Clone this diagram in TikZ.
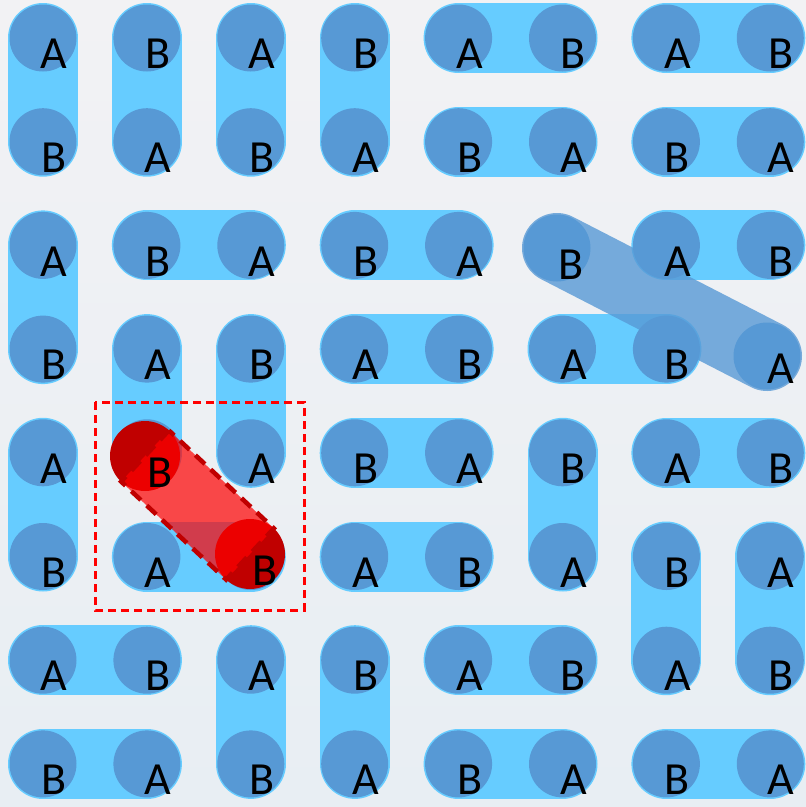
\documentclass[tikz,border=0pt]{standalone}
\usepackage{fontspec}
\setmainfont{Carlito}
\usetikzlibrary{calc}

\definecolor{tileblue}{HTML}{66CCFF}
\definecolor{dotblue}{HTML}{5799D5}
\definecolor{darkred}{HTML}{C00000}
\definecolor{bgtop}{RGB}{242,242,244}
\definecolor{bgmid}{RGB}{245,248,252}
\definecolor{bgbot}{RGB}{232,238,243}

% domino list: col/row/letter of one end, col/row/letter of the other
\def\tiles{1/1/A/1/2/B, 2/1/B/2/2/A, 3/1/A/3/2/B, 4/1/B/4/2/A, 5/1/A/6/1/B, 7/1/A/8/1/B,
  5/2/B/6/2/A, 7/2/B/8/2/A,
  1/3/A/1/4/B, 2/3/B/3/3/A, 4/3/B/5/3/A, 7/3/A/8/3/B,
  2/4/A/2/5/{}, 3/4/B/3/5/A, 4/4/A/5/4/B, 6/4/A/7/4/B,
  1/5/A/1/6/B, 4/5/B/5/5/A, 6/5/B/6/6/A, 7/5/A/8/5/B,
  2/6/A/3/6/{}, 4/6/A/5/6/B, 7/6/B/7/7/A, 8/6/A/8/7/B,
  1/7/A/2/7/B, 3/7/A/3/8/B, 4/7/B/4/8/A, 5/7/A/6/7/B,
  1/8/B/2/8/A, 5/8/B/6/8/A, 7/8/B/8/8/A}

\begin{document}
\begin{tikzpicture}[x=1pt, y=-1pt,
  tile/.style={line width=70pt, line cap=round, draw=tileblue},
  band/.style={line width=70pt, line cap=round, draw=dotblue, opacity=0.8},
  dot/.style={circle, fill=dotblue, minimum size=67pt, inner sep=0pt},
  reddot/.style={circle, fill=darkred, minimum size=70pt, inner sep=0pt},
  redbar/.style={fill=red, fill opacity=0.7, draw=darkred, draw opacity=1, line width=4.5pt, dash pattern=on 13pt off 8pt},
  selbox/.style={draw=red, line width=3pt, dash pattern=on 8pt off 5pt},
  lbl/.style={font=\fontsize{46}{46}\selectfont, inner sep=0pt}
]
  \useasboundingbox (0,0) rectangle (806,807);
  \shade[top color=bgtop, middle color=bgmid, bottom color=bgbot] (0,0) rectangle (806,807);

  % blue dominoes
  \foreach \ca/\ra/\la/\cb/\rb/\lb in \tiles {
    \coordinate (p\ca-\ra) at ({43+103.9*(\ca-1)},{38+103.7*(\ra-1)});
    \coordinate (p\cb-\rb) at ({43+103.9*(\cb-1)},{38+103.7*(\rb-1)});
    \draw[tile] (p\ca-\ra) -- (p\cb-\rb);
    \node[dot] (n\ca-\ra) at (p\ca-\ra) {};
    \node[dot] (n\cb-\rb) at (p\cb-\rb) {};
  }

  % the tilted blue domino
  \coordinate (g1) at (557,248);
  \coordinate (g2) at (767,356);
  \draw[band] (g1) -- (g2);
  \node[dot] (n6-3) at (g1) {};
  \node[dot] (n8-4) at (g2) {};

  % letters
  \foreach \ca/\ra/\la/\cb/\rb/\lb in \tiles {
    \node[lbl] (t\ca-\ra) at ($(n\ca-\ra)+(11,16)$) {\la};
    \node[lbl] (t\cb-\rb) at ($(n\cb-\rb)+(11,16)$) {\lb};
  }
  \node[lbl] (t6-3) at ($(n6-3)+(14,17)$) {B};
  \node[lbl] (t8-4) at ($(n8-4)+(14,13)$) {A};

  % red domino
  \node[reddot] (r1) at (145,456) {};
  \node[reddot] (r2) at (250,554) {};
  \path[redbar] ($(r1.center)!35pt!90:(r2.center)$) -- ($(r1.center)!35pt!-90:(r2.center)$)
    -- ($(r2.center)!35pt!90:(r1.center)$) -- ($(r2.center)!35pt!-90:(r1.center)$) -- cycle;
  \node[lbl] (s1) at ($(r1)+(15,17)$) {B};
  \node[lbl] (s2) at ($(r2)+(15,17)$) {B};

  \draw[selbox] (95,402) rectangle (304,610);
\end{tikzpicture}
\end{document}
